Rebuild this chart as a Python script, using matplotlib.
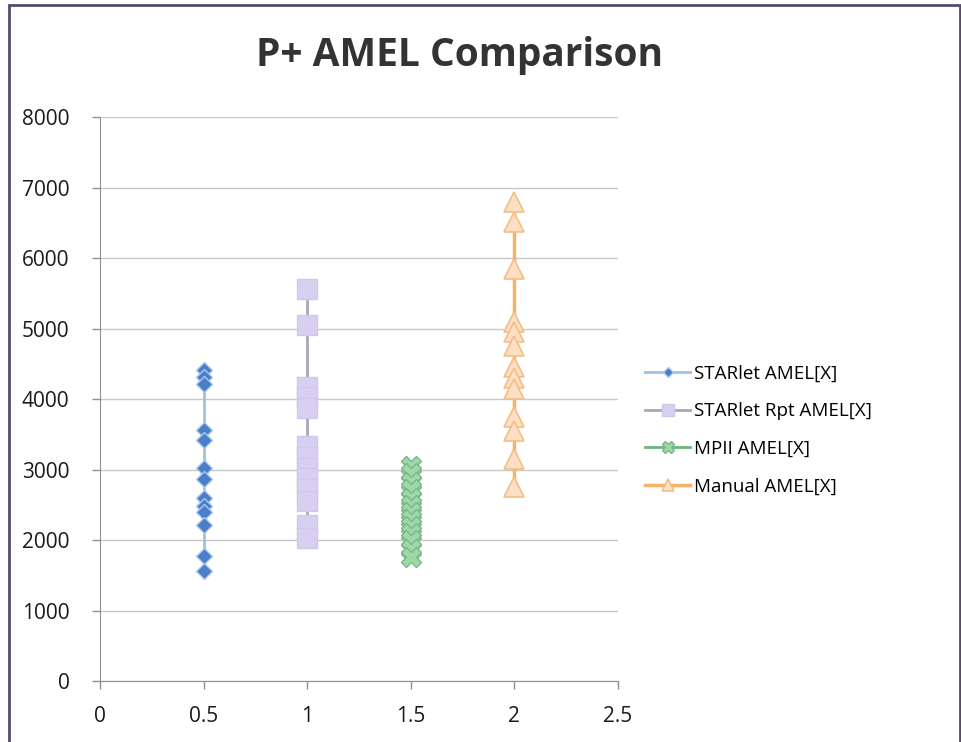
import matplotlib
matplotlib.use("Agg")
import matplotlib.pyplot as plt
from matplotlib.patches import Rectangle

# data (x position, y values per series)
STARLET_X = 0.5
STARLET_Y = [4420, 4320, 4220, 3560, 3420, 3020, 2870, 2600, 2490, 2400, 2220, 1780, 1560]

RPT_X = 1.0
RPT_Y = [5560, 5050, 4180, 4030, 3880, 3330, 3180, 3030, 2880, 2730, 2560, 2220, 2030]

MPII_X = 1.5
MPII_Y = [3050, 2950, 2820, 2720, 2600, 2500, 2400, 2300, 2200, 2100, 2000, 1880, 1760]

MANUAL_X = 2.0
MANUAL_Y = [6800, 6520, 5850, 5100, 4950, 4750, 4450, 4300, 4150, 3750, 3550, 3150, 2750]

SERIES_LABELS = ["STARlet AMEL[X]", "STARlet Rpt AMEL[X]", "MPII AMEL[X]", "Manual AMEL[X]"]
X_TICKS = [0, 0.5, 1, 1.5, 2, 2.5]
Y_TICKS = [0, 1000, 2000, 3000, 4000, 5000, 6000, 7000, 8000]


def main() -> None:
    plt.rcParams["font.family"] = ["Open Sans", "DejaVu Sans"]
    fig = plt.figure(figsize=(9.61, 7.42), dpi=100)
    ax = fig.add_axes([0.104, 0.082, 0.539, 0.760])

    ax.plot([STARLET_X] * len(STARLET_Y), STARLET_Y, color="#9cc2e8", lw=2,
            marker="D", ms=8, mfc="#4a7ec8", mec="#a9c8ec", mew=1.0, label=SERIES_LABELS[0], zorder=3)
    ax.plot([RPT_X] * len(RPT_Y), RPT_Y, color="#a9a6b8", lw=2,
            marker="s", ms=15, mfc="#d8d0f0", mec="#d0c8ec", mew=1.0, label=SERIES_LABELS[1], zorder=3)
    ax.plot([MPII_X] * len(MPII_Y), MPII_Y, color="#6cb57c", lw=2,
            marker="X", ms=14, mfc="#9fd8a8", mec="#78b888", mew=1.0, label=SERIES_LABELS[2], zorder=3)
    ax.plot([MANUAL_X] * len(MANUAL_Y), MANUAL_Y, color="#f3b46a", lw=2.5,
            marker="^", ms=15, mfc="#fde0c4", mec="#f5bd86", mew=1.2, label=SERIES_LABELS[3], zorder=3)

    ax.set_xlim(0, 2.5)
    ax.set_ylim(0, 8000)
    ax.set_xticks(X_TICKS)
    ax.set_xticklabels([f"{t:g}" for t in X_TICKS])
    ax.set_yticks(Y_TICKS)
    ax.grid(axis="y", color="#c8c8c8", lw=1)
    ax.set_axisbelow(True)
    for side in ("top", "right"):
        ax.spines[side].set_visible(False)
    for side in ("left", "bottom"):
        ax.spines[side].set_color("#909090")
    ax.tick_params(axis="both", labelsize=15, colors="#909090", labelcolor="#1a1a1a",
                   length=6, width=1)
    ax.tick_params(axis="y", pad=16)
    ax.tick_params(axis="x", pad=12)

    ax.legend(loc="center left", bbox_to_anchor=(1.02, 0.445), frameon=False,
              fontsize=13.5, handlelength=2.4, labelspacing=1.05, handletextpad=0.2,
              markerscale=0.6)

    fig.text(0.478, 0.925, "P+ AMEL Comparison", ha="center", va="center",
             fontsize=28, fontweight="bold", color="#333333")

    fig.patches.append(Rectangle((0.009, -0.01), 0.99, 1.003, transform=fig.transFigure,
                                 fill=False, edgecolor="#5a4a6a", lw=2))

    fig.savefig("out.png", dpi=100)
    plt.close(fig)


if __name__ == "__main__":
    main()
